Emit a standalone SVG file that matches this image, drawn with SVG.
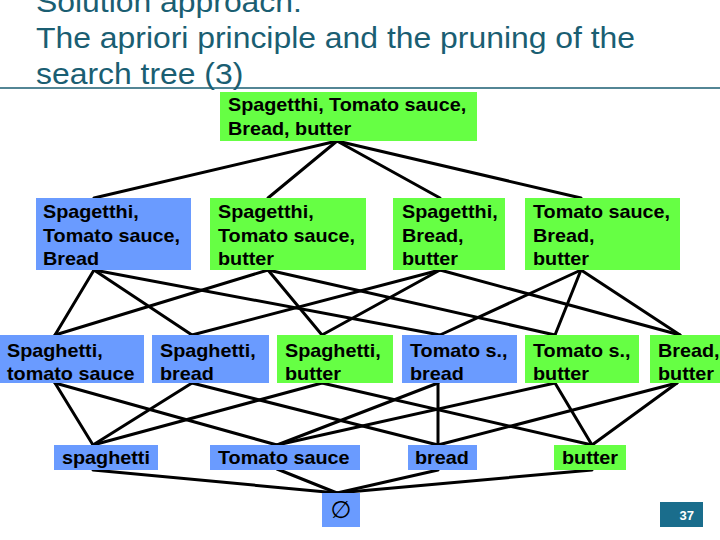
<svg xmlns="http://www.w3.org/2000/svg" width="720" height="540" viewBox="0 0 720 540">
<style>
.title{font-family:"Liberation Sans",Arial,sans-serif;font-size:29px;fill:#1a5e72}
.g{fill:#66ff44}
.b{fill:#6a9bff}
.t{font-family:"Liberation Sans",Arial,sans-serif;font-size:18px;font-weight:bold;fill:#000}
.e line{stroke:#000;stroke-width:3;stroke-linecap:round}
</style>
<rect width="720" height="540" fill="#fff"/>
<g id="title">
<text class="title" transform="translate(36,12) scale(1.1,1)">Solution approach:</text>
<text class="title" transform="translate(36,48) scale(1.1,1)">The apriori principle and the pruning of the</text>
<text class="title" transform="translate(36,84) scale(1.1,1)">search tree (3)</text>
<line x1="0" y1="88" x2="720" y2="88" stroke="#1a5e72" stroke-width="1.5"/>
</g>
<g id="connectors" class="e">
<line x1="337" y1="141" x2="94" y2="198"/>
<line x1="337" y1="141" x2="268" y2="198"/>
<line x1="337" y1="141" x2="440" y2="198"/>
<line x1="337" y1="141" x2="581" y2="198"/>
<line x1="94" y1="270" x2="55" y2="335"/>
<line x1="94" y1="270" x2="192" y2="335"/>
<line x1="94" y1="270" x2="440" y2="335"/>
<line x1="268" y1="270" x2="55" y2="335"/>
<line x1="268" y1="270" x2="322" y2="335"/>
<line x1="268" y1="270" x2="555" y2="335"/>
<line x1="440" y1="270" x2="192" y2="335"/>
<line x1="440" y1="270" x2="322" y2="335"/>
<line x1="440" y1="270" x2="680" y2="335"/>
<line x1="581" y1="270" x2="440" y2="335"/>
<line x1="581" y1="270" x2="555" y2="335"/>
<line x1="581" y1="270" x2="680" y2="335"/>
<line x1="55" y1="383" x2="93" y2="445"/>
<line x1="55" y1="383" x2="277" y2="445"/>
<line x1="192" y1="383" x2="93" y2="445"/>
<line x1="192" y1="383" x2="438" y2="445"/>
<line x1="322" y1="383" x2="93" y2="445"/>
<line x1="322" y1="383" x2="592" y2="445"/>
<line x1="438" y1="383" x2="277" y2="445"/>
<line x1="438" y1="383" x2="438" y2="445"/>
<line x1="555" y1="383" x2="277" y2="445"/>
<line x1="555" y1="383" x2="592" y2="445"/>
<line x1="677" y1="383" x2="438" y2="445"/>
<line x1="677" y1="383" x2="592" y2="445"/>
<line x1="93" y1="470" x2="337" y2="493"/>
<line x1="277" y1="469" x2="337" y2="493"/>
<line x1="438" y1="470" x2="337" y2="493"/>
<line x1="592" y1="470" x2="337" y2="493"/>
</g>
<g id="n-stbb"><rect class="g" x="220" y="92" width="257" height="49"/>
<text class="t" transform="translate(228,111) scale(1.1,1)"><tspan x="0" y="0">Spagetthi, Tomato sauce,</tspan><tspan x="0" y="24">Bread, butter</tspan></text></g>
<g id="n-stb"><rect class="b" x="36" y="198" width="155" height="72"/>
<text class="t" transform="translate(43,218) scale(1.1,1)"><tspan x="0" y="0">Spagetthi,</tspan><tspan x="0" y="24">Tomato sauce,</tspan><tspan x="0" y="47">Bread</tspan></text></g>
<g id="n-stbu"><rect class="g" x="210" y="198" width="156" height="72"/>
<text class="t" transform="translate(218,218) scale(1.1,1)"><tspan x="0" y="0">Spagetthi,</tspan><tspan x="0" y="24">Tomato sauce,</tspan><tspan x="0" y="47">butter</tspan></text></g>
<g id="n-sbbu"><rect class="g" x="393" y="198" width="112" height="72"/>
<text class="t" transform="translate(402,218) scale(1.1,1)"><tspan x="0" y="0">Spagetthi,</tspan><tspan x="0" y="24">Bread,</tspan><tspan x="0" y="47">butter</tspan></text></g>
<g id="n-tbbu"><rect class="g" x="525" y="198" width="155" height="72"/>
<text class="t" transform="translate(533,218) scale(1.1,1)"><tspan x="0" y="0">Tomato sauce,</tspan><tspan x="0" y="24">Bread,</tspan><tspan x="0" y="47">butter</tspan></text></g>
<g id="n-st"><rect class="b" x="0" y="335" width="144" height="48"/>
<text class="t" transform="translate(7,357) scale(1.1,1)"><tspan x="0" y="0">Spaghetti,</tspan><tspan x="0" y="23">tomato sauce</tspan></text></g>
<g id="n-sb"><rect class="b" x="152" y="335" width="117" height="48"/>
<text class="t" transform="translate(160,357) scale(1.1,1)"><tspan x="0" y="0">Spaghetti,</tspan><tspan x="0" y="23">bread</tspan></text></g>
<g id="n-sbu"><rect class="g" x="277" y="335" width="116" height="48"/>
<text class="t" transform="translate(285,357) scale(1.1,1)"><tspan x="0" y="0">Spaghetti,</tspan><tspan x="0" y="23">butter</tspan></text></g>
<g id="n-tb"><rect class="b" x="402" y="335" width="115" height="48"/>
<text class="t" transform="translate(410,357) scale(1.1,1)"><tspan x="0" y="0">Tomato s.,</tspan><tspan x="0" y="23">bread</tspan></text></g>
<g id="n-tbu"><rect class="g" x="525" y="335" width="114" height="48"/>
<text class="t" transform="translate(533,357) scale(1.1,1)"><tspan x="0" y="0">Tomato s.,</tspan><tspan x="0" y="23">butter</tspan></text></g>
<g id="n-bbu"><rect class="g" x="650" y="335" width="70" height="48"/>
<text class="t" transform="translate(658,357) scale(1.1,1)"><tspan x="0" y="0">Bread,</tspan><tspan x="0" y="23">butter</tspan></text></g>
<g id="n-s"><rect class="b" x="54" y="445" width="104" height="25"/>
<text class="t" transform="translate(62,464) scale(1.1,1)">spaghetti</text></g>
<g id="n-t"><rect class="b" x="210" y="445" width="150" height="25"/>
<text class="t" transform="translate(218,464) scale(1.1,1)">Tomato sauce</text></g>
<g id="n-b"><rect class="b" x="408" y="445" width="69" height="25"/>
<text class="t" transform="translate(415,464) scale(1.1,1)">bread</text></g>
<g id="n-bu"><rect class="g" x="554" y="445" width="72" height="25"/>
<text class="t" transform="translate(562,464) scale(1.1,1)">butter</text></g>
<g id="n-empty"><rect class="b" x="322" y="493" width="38" height="34"/>
<text x="341" y="518" text-anchor="middle" font-family="'DejaVu Sans','Liberation Sans',sans-serif" font-size="24" fill="#000">∅</text></g>
<g id="page"><rect x="660" y="502" width="43" height="25" fill="#1a6d8c"/>
<text x="694" y="520" text-anchor="end" font-family="'Liberation Sans',Arial,sans-serif" font-size="13" font-weight="bold" fill="#fff">37</text></g>
</svg>
